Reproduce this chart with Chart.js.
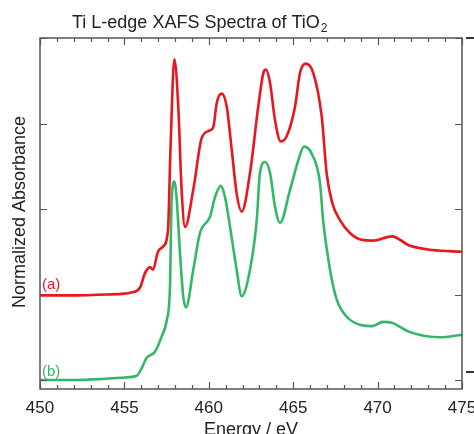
<!DOCTYPE html>
<html lang="en">
<head>
<meta charset="UTF-8">
<title>Ti L-edge XAFS</title>
<script src="https://cdn.jsdelivr.net/npm/chart.js"></script>
<style>
  html, body { margin: 0; padding: 0; background: #fff; }
  canvas { display: block; }
</style>
</head>
<body>
<canvas id="xafs" width="474" height="434"></canvas>
<script>
// spectrum (a), red
const energyA = [450, 452, 454, 455, 455.33, 455.92, 456.22, 456.52, 456.69, 456.99, 457.29, 457.58, 457.73, 457.96, 458.19, 458.39, 458.59, 459.1, 459.58, 460.07, 460.27, 460.47, 460.76, 461.06, 461.36, 461.65, 461.95, 462.44, 462.93, 463.23, 463.39, 463.63, 463.92, 464.26, 464.61, 465.11, 465.4, 465.74, 466.19, 466.69, 466.98, 467.3, 467.77, 468.36, 469.06, 469.73, 470.84, 471.92, 473.28, 475]
const absA = [0.99, 0.99, 1.0, 1.01, 1.02, 1.08, 1.25, 1.32, 1.29, 1.5, 1.56, 1.75, 2.7, 3.75, 3.2, 2.22, 1.79, 2.25, 2.83, 2.92, 2.96, 3.24, 3.35, 3.2, 2.69, 2.18, 1.97, 2.42, 3.2, 3.59, 3.63, 3.47, 3.04, 2.79, 2.85, 3.2, 3.59, 3.7, 3.59, 3.08, 2.42, 2.08, 1.87, 1.72, 1.64, 1.63, 1.68, 1.57, 1.52, 1.5]

// spectrum (b), green
const energyB = [450, 452, 453.55, 455, 455.73, 456.0, 456.32, 456.81, 457.21, 457.51, 457.7, 457.8, 457.96, 458.1, 458.29, 458.49, 458.65, 459.08, 459.48, 460.07, 460.37, 460.71, 460.96, 461.26, 461.65, 461.95, 462.44, 462.84, 463.03, 463.33, 463.63, 463.92, 464.22, 464.81, 465.3, 465.64, 466.09, 466.59, 466.77, 467.18, 467.58, 468.17, 469.06, 469.65, 470.32, 470.84, 471.92, 473.7, 475]
const absB = [0.0, 0.0, 0.01, 0.03, 0.05, 0.13, 0.26, 0.33, 0.51, 0.7, 1.09, 2.11, 2.32, 2.11, 1.49, 0.97, 0.85, 1.29, 1.72, 1.91, 2.14, 2.27, 2.14, 1.79, 1.29, 0.98, 1.29, 1.87, 2.42, 2.55, 2.42, 2.03, 1.84, 2.22, 2.57, 2.73, 2.65, 2.3, 1.87, 1.29, 0.94, 0.74, 0.64, 0.63, 0.68, 0.67, 0.56, 0.5, 0.53]

const xTicks = [450, 455, 460, 465, 470, 475]
const yTicks = [0, 1, 2, 3, 4]
const rightOuterTicks = [4, 0.094]

const font = 'Liberation Sans, Arial, sans-serif'
const red = '#e8161e'
const green = '#34b868'

const toPoints = (xs, ys) => xs.map((e, i) => ({ x: e, y: ys[i] }))

// frame, inward ticks, title and labels
const decor = {
  id: 'decor',
  afterDraw(chart) {
    const { ctx, chartArea: a, scales: { x, y } } = chart
    ctx.save()
    ctx.strokeStyle = '#555'
    ctx.lineWidth = 1.5
    ctx.strokeRect(a.left, a.top, a.right - a.left, a.bottom - a.top)

    ctx.lineWidth = 1.2
    ctx.beginPath()
    for (let e = xTicks[0]; e <= xTicks[xTicks.length - 1]; e++) {
      const px = Math.round(x.getPixelForValue(e)) + 0.5
      const len = xTicks.includes(e) ? 7 : 4
      ctx.moveTo(px, a.bottom); ctx.lineTo(px, a.bottom - len)
      ctx.moveTo(px, a.top); ctx.lineTo(px, a.top + len)
    }
    yTicks.forEach(v => {
      const py = Math.round(y.getPixelForValue(v)) + 0.5
      ctx.moveTo(a.left, py); ctx.lineTo(a.left + 7, py)
      ctx.moveTo(a.right, py); ctx.lineTo(a.right - 7, py)
    })
    ctx.stroke()

    ctx.lineWidth = 2
    ctx.strokeStyle = '#333'
    ctx.beginPath()
    rightOuterTicks.forEach(v => {
      const py = Math.round(y.getPixelForValue(v))
      ctx.moveTo(a.right + 4, py); ctx.lineTo(a.right + 12, py)
    })
    ctx.stroke()

    // title with subscript
    ctx.fillStyle = '#222'
    ctx.font = '18px ' + font
    ctx.textBaseline = 'alphabetic'
    const t = 'Ti L-edge XAFS Spectra of TiO'
    ctx.fillText(t, 72, 28)
    const w = ctx.measureText(t).width
    ctx.font = '12px ' + font
    ctx.fillText('2', 72 + w + 1, 32)

    // y title
    ctx.save()
    ctx.translate(25, 212)
    ctx.rotate(-Math.PI / 2)
    ctx.font = '18px ' + font
    ctx.textAlign = 'center'
    ctx.fillText('Normalized Absorbance', 0, 0)
    ctx.restore()

    // curve labels
    ctx.font = '15px ' + font
    ctx.fillStyle = red
    ctx.fillText('(a)', a.left + 2, y.getPixelForValue(1.07))
    ctx.fillStyle = green
    ctx.fillText('(b)', a.left + 2, y.getPixelForValue(0.05))
    ctx.restore()
  }
}

new Chart(document.getElementById('xafs'), {
  type: 'line',
  data: {
    datasets: [
      { data: toPoints(energyA, absA), borderColor: red, borderWidth: 2.6 },
      { data: toPoints(energyB, absB), borderColor: green, borderWidth: 2.6 }
    ]
  },
  options: {
    responsive: false,
    animation: false,
    devicePixelRatio: 1,
    layout: { padding: { left: 40, right: 12, top: 38, bottom: 0 } },
    elements: {
      point: { radius: 0 },
      line: { cubicInterpolationMode: 'monotone', fill: false }
    },
    plugins: { legend: { display: false }, tooltip: { enabled: false } },
    scales: {
      x: {
        type: 'linear',
        min: 450,
        max: 475,
        afterBuildTicks: s => { s.ticks = xTicks.map(v => ({ value: v })) },
        afterFit: s => { s.paddingLeft = 0; s.paddingRight = 0; s.height = 45 },
        grid: { display: false, drawTicks: false },
        border: { display: false },
        ticks: { color: '#222', font: { family: font, size: 17 }, padding: 9, maxRotation: 0 },
        title: {
          display: true,
          text: 'Energy / eV',
          color: '#222',
          font: { family: font, size: 18 },
          padding: { top: 0, bottom: -7 }
        }
      },
      y: {
        display: false,
        min: -0.105,
        max: 4
      }
    }
  },
  plugins: [decor]
})
</script>
</body>
</html>
